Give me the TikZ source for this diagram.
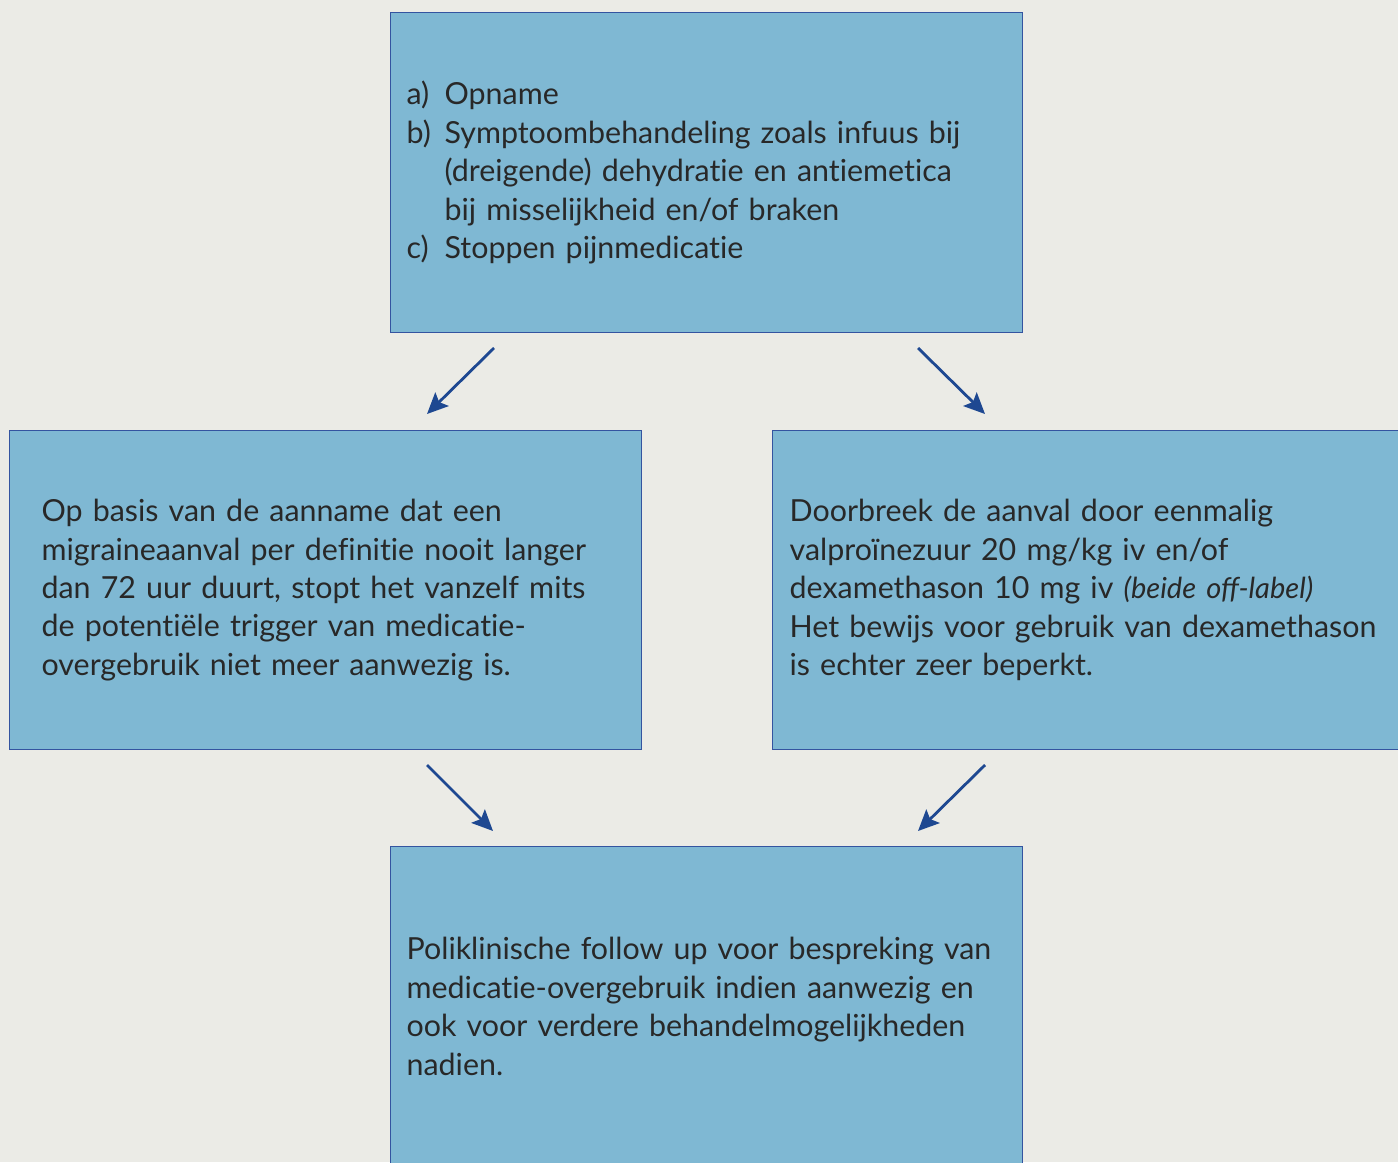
\documentclass[tikz,border=0pt]{standalone}
\usepackage{fontspec}
\setmainfont{Lato}[Ligatures=NoCommon, ItalicFeatures={Ligatures=Common}]
\usetikzlibrary{arrows.meta}

\definecolor{pagegray}{RGB}{235,235,230}
\definecolor{boxblue}{RGB}{127,184,211}
\definecolor{edgeblue}{RGB}{52,84,160}
\definecolor{arrowblue}{RGB}{30,72,145}
\definecolor{textgray}{RGB}{40,40,40}

\begin{document}
\begin{tikzpicture}[
   x=0.02cm,
   y=-0.02cm,
   font=\fontsize{17.3}{21.9}\selectfont,
   stepbox/.style={
      draw=edgeblue,
      fill=boxblue,
      line width=0.7pt,
      anchor=north west,
      minimum width=12.64cm,
      minimum height=6.4cm,
      inner ysep=0pt,
      align=left,
      text=textgray
   },
   flow/.style={
      -{Stealth[length=0.42cm,width=0.38cm,inset=0.08cm]},
      draw=arrowblue,
      line width=1.6pt
   }
]

   % Page
   \useasboundingbox[fill=pagegray] (0,0) rectangle (1398,1162);
   \clip (0,0) rectangle (1398,1162);

   % Measures
   \node[
      stepbox,
      inner xsep=0.32cm,
      text width=12cm
   ] (measures) at (390,12)
   {
      \makebox[0.76cm][l]{a)}Opname\\
      \makebox[0.76cm][l]{b)}Symptoombehandeling zoals infuus bij\\
      \hspace*{0.76cm}(dreigende) dehydratie en antiemetica\\
      \hspace*{0.76cm}bij misselijkheid en/of braken\\
      \makebox[0.76cm][l]{c)}Stoppen pijnmedicatie
   };

   % Wait
   \node[
      stepbox,
      minimum height=6.38cm,
      inner xsep=0.64cm,
      text width=11.36cm
   ] (wait) at (9,430)
   {
      Op basis van de aanname dat een\\
      migraineaanval per definitie nooit langer\\
      dan 72 uur duurt, stopt het vanzelf mits\\
      de potentiële trigger van medicatie-\\
      overgebruik niet meer aanwezig is.
   };

   % Break the attack
   \node[
      stepbox,
      minimum height=6.38cm,
      inner xsep=0.34cm,
      text width=11.96cm
   ] (attack) at (772,430)
   {
      Doorbreek de aanval door eenmalig\\
      valproïnezuur 20 mg/kg iv en/of\\
      dexamethason 10 mg iv {\itshape\fontsize{16.5}{21.9}\selectfont (beide off-label)}\\
      Het bewijs voor gebruik van dexamethason\\
      is echter zeer beperkt.
   };

   % Follow up
   \node[
      stepbox,
      inner xsep=0.32cm,
      text width=12cm
   ] (followup) at (390,846)
   {
      Poliklinische follow up voor bespreking van\\
      medicatie-overgebruik indien aanwezig en\\
      ook voor verdere behandelmogelijkheden\\
      nadien.
   };

   % Arrow ends
   \coordinate (m1) at (494,348);
   \coordinate (w1) at (427,414);
   \coordinate (m2) at (918,348);
   \coordinate (a1) at (985,414);
   \coordinate (w2) at (427,765);
   \coordinate (f1) at (493,831);
   \coordinate (a2) at (985,765);
   \coordinate (f2) at (918,831);

   \draw[flow] (m1) -- (w1);
   \draw[flow] (m2) -- (a1);
   \draw[flow] (w2) -- (f1);
   \draw[flow] (a2) -- (f2);

\end{tikzpicture}
\end{document}
